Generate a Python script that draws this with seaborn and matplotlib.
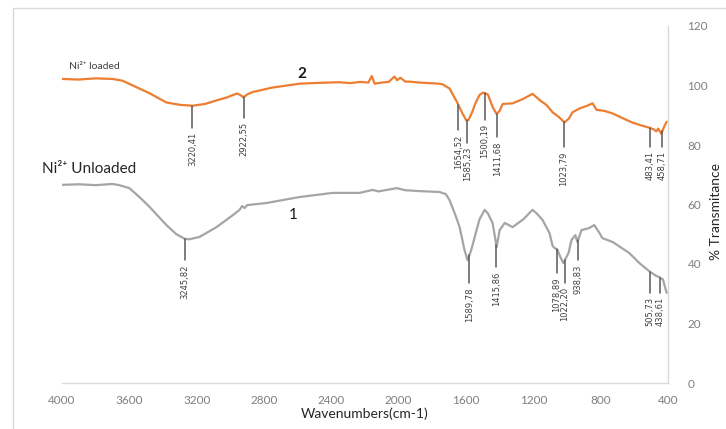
import matplotlib
matplotlib.use('Agg')
import matplotlib.pyplot as plt
import numpy as np
import pandas as pd
import seaborn as sns
from matplotlib.patches import Rectangle

# FTIR spectra (wavenumber cm-1, % transmittance)
loaded_wn = [4000, 3900, 3800, 3700, 3640, 3560, 3480, 3380, 3300, 3225, 3150, 3082, 3020,
             2985, 2960, 2940, 2922, 2900, 2868, 2750, 2590, 2470, 2350, 2290, 2230, 2180,
             2160, 2143, 2100, 2060, 2025, 2010, 1990, 1960, 1935, 1880, 1816, 1760, 1740,
             1698, 1654, 1620, 1597, 1585, 1560, 1548, 1520, 1500, 1470, 1442, 1418, 1400,
             1382, 1323, 1260, 1205, 1160, 1121, 1086, 1050, 1015, 990, 967, 925, 880, 848,
             824, 780, 729, 680, 610, 560, 510, 483, 470, 458, 440, 420, 408]
loaded_t = [102.2, 102.0, 102.4, 102.2, 101.6, 99.5, 97.4, 94.3, 93.5, 93.2, 93.8, 95.0, 96.0,
            96.8, 97.3, 96.8, 96.0, 97.0, 97.8, 99.3, 100.6, 100.9, 101.1, 100.8, 101.2, 101.0,
            103.2, 100.6, 101.0, 101.2, 103.0, 101.8, 102.6, 101.3, 101.3, 101.0, 100.8, 100.6, 100.4,
            99.0, 94.5, 90.5, 88.2, 88.4, 91.5, 93.5, 96.8, 97.6, 97.0, 92.8, 90.4, 91.5,
            93.8, 94.0, 95.5, 97.2, 95.0, 93.4, 91.0, 89.5, 87.6, 88.8, 91.0, 92.3, 93.2, 94.0,
            91.8, 91.5, 90.6, 89.3, 87.5, 86.6, 85.8, 85.2, 84.6, 85.5, 83.8, 86.5, 87.8]

unloaded_wn = [4000, 3900, 3800, 3700, 3660, 3600, 3540, 3480, 3380, 3320, 3272, 3245, 3183,
               3082, 3000, 2945, 2930, 2915, 2900, 2785, 2590, 2393, 2233, 2155, 2120, 2012,
               1960, 1876, 1757, 1720, 1698, 1660, 1638, 1610, 1591, 1570, 1548, 1520, 1489,
               1470, 1442, 1418, 1400, 1370, 1323, 1260, 1205, 1180, 1145, 1104, 1085, 1074,
               1056, 1040, 1022, 991, 973, 950, 938, 914, 867, 838, 807, 790, 729, 630, 570,
               505, 470, 452, 430, 408]
unloaded_t = [66.6, 66.8, 66.5, 66.9, 66.5, 65.5, 62.5, 59.2, 53.1, 50.0, 48.5, 48.3, 49.1,
              52.4, 55.8, 58.2, 59.5, 58.8, 59.8, 60.5, 62.5, 63.9, 63.9, 64.9, 64.4, 65.5,
              64.8, 64.5, 64.2, 63.5, 61.5, 56.0, 52.4, 45.0, 41.3, 44.5, 49.1, 55.0, 58.2,
              57.0, 53.8, 45.7, 51.4, 53.8, 52.4, 55.0, 58.2, 57.0, 54.8, 50.4, 46.0, 45.4,
              44.7, 42.4, 40.3, 43.7, 48.1, 49.7, 47.4, 51.4, 52.1, 53.1, 50.4, 48.7, 47.4, 43.7, 40.3,
              37.3, 36.0, 35.6, 34.8, 30.3]

# marked peaks: where the marker sits on the picture, its label, level where the line ends
loaded_peaks = [3225, 2918, 1645, 1592, 1490, 1415, 1018, 505, 434]
loaded_labels = ['3220,41', '2922,55', '1654,52', '1585,23', '1500,19', '1411,68',
                 '1023,79', '483,41', '458,71']
loaded_ends = [85.7, 89.1, 85.0, 80.7, 88.4, 82.7, 79.3, 79.3, 79.3]

unloaded_peaks = [3270, 1580, 1420, 1062, 1012, 934, 507, 446]
unloaded_labels = ['3245,82', '1589,78', '1415,86', '1078,89', '1022,20', '938,83',
                   '505,73', '438,61']
unloaded_ends = [41.3, 33.6, 39.0, 37.0, 33.6, 41.3, 30.3, 30.3]

x_ticks = [4000, 3600, 3200, 2800, 2400, 2000, 1600, 1200, 800, 400]
y_ticks = [0, 20, 40, 60, 80, 100, 120]

df_loaded = pd.DataFrame({'wn': loaded_wn, 't': loaded_t})
df_unloaded = pd.DataFrame({'wn': unloaded_wn, 't': unloaded_t})

sns.set_theme(style='white')
plt.rcParams['font.family'] = ['Lato', 'DejaVu Sans']

fig = plt.figure(figsize=(7.26, 4.29), dpi=100)
ax = fig.add_axes([62 / 726, 46 / 429, 606 / 726, 357 / 429])

# outer chart frame
fig.add_artist(Rectangle((13 / 726, -0.1), 1.2, (429 - 8) / 429 + 0.1, transform=fig.transFigure,
                         fill=False, edgecolor='#d9d9d9', lw=1.0))

sns.lineplot(data=df_loaded, x='wn', y='t', ax=ax, color='#ED7D31', lw=1.6, estimator=None, sort=False)
sns.lineplot(data=df_unloaded, x='wn', y='t', ax=ax, color='#A5A5A5', lw=1.6, estimator=None, sort=False)

mark_col = '#595959'
for df_c, peaks, labels, ends in [(df_loaded, loaded_peaks, loaded_labels, loaded_ends),
                                  (df_unloaded, unloaded_peaks, unloaded_labels, unloaded_ends)]:
    wn = df_c['wn'].values[::-1]
    tt = df_c['t'].values[::-1]
    for p, lab, e in zip(peaks, labels, ends):
        top = np.interp(p, wn, tt)
        ax.plot([p, p], [top, e], color=mark_col, lw=1.1)
        ax.annotate(lab, xy=(p, e), xytext=(0, -3), textcoords='offset points',
                    rotation=90, ha='center', va='top', fontsize=6, color='#404040',
                    family='Liberation Sans Narrow')

ax.set_xlim(4000, 400)
ax.set_ylim(0, 120)
ax.set_xticks(x_ticks)
ax.set_yticks(y_ticks)
ax.yaxis.tick_right()
ax.yaxis.set_label_position('right')
ax.tick_params(axis='both', length=0, colors='#7f7f7f', labelsize=8.5)
ax.tick_params(axis='y', pad=14)
ax.tick_params(axis='x', pad=9)
for s in ['top', 'left']:
    ax.spines[s].set_visible(False)
for s in ['bottom', 'right']:
    ax.spines[s].set_color('#d9d9d9')
    ax.spines[s].set_linewidth(1.0)

ax.set_xlabel('Wavenumbers(cm-1)', fontsize=10, color='#262626', labelpad=1)
ax.set_ylabel('% Transmitance', fontsize=10, color='#262626')
ax.yaxis.set_label_coords((710 - 62) / 606, (383 - 211) / 357)

ax.text(3960, 105.0, 'Ni²⁺ loaded', fontsize=7.5, color='#404040', va='bottom')
ax.text(4120, 69.5, 'Ni²⁺ Unloaded', fontsize=11, color='#262626', va='bottom')
ax.text(2600, 102.5, '2', fontsize=11, color='#1a1a1a', fontweight='bold')
ax.text(2650, 55.0, '1', fontsize=11, color='#1a1a1a')

fig.savefig('out.png', dpi=100)
